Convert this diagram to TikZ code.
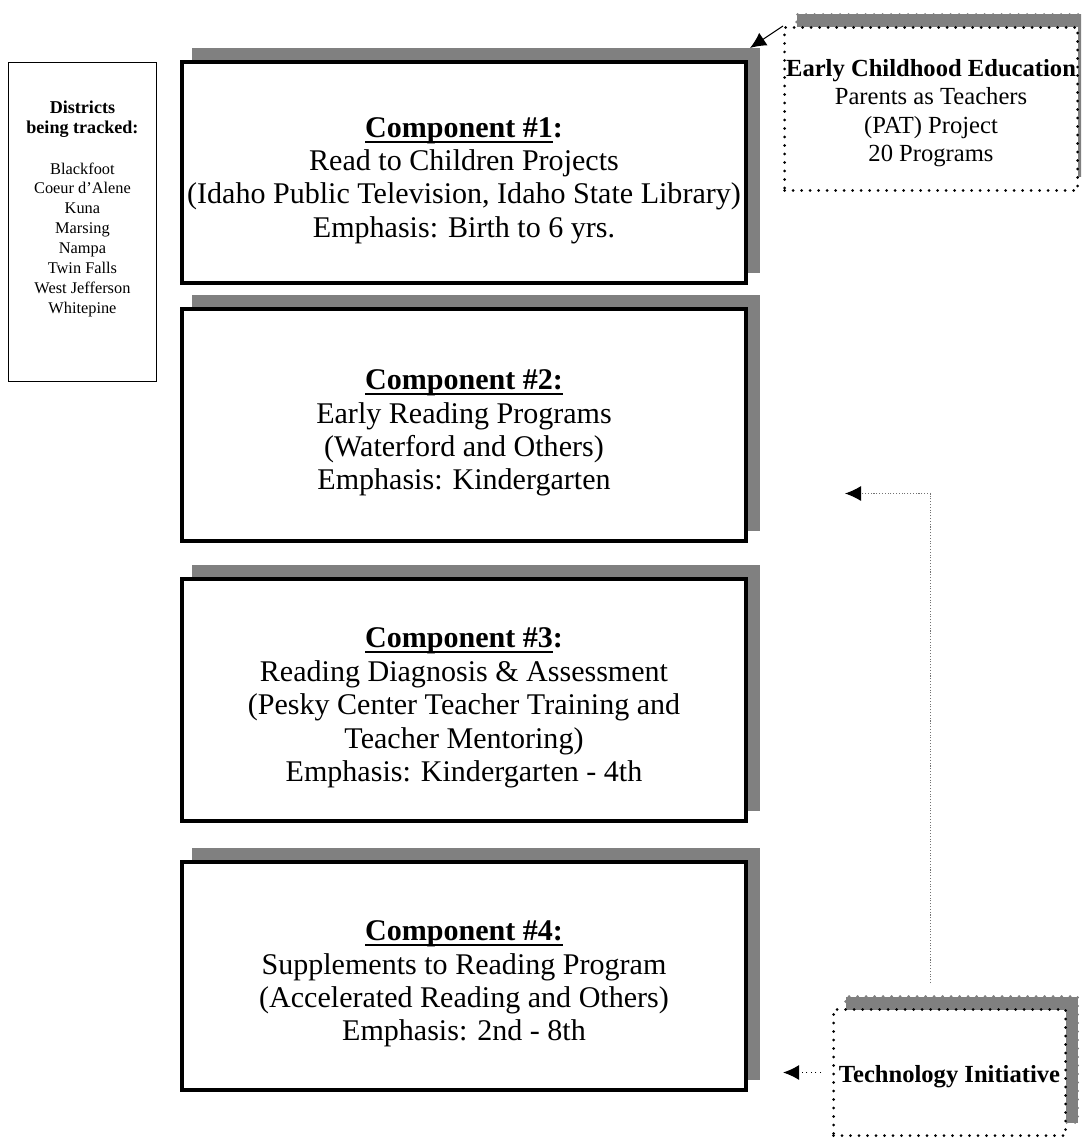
\documentclass[tikz,border=0pt]{standalone}
\usepackage{fontspec}
\setmainfont{Liberation Serif}
\usetikzlibrary{arrows.meta, positioning, calc, shadows}
\newcommand{\ulbox}[1]{\setbox0\hbox{#1}\rlap{\rule[-0.11cm]{\wd0}{0.04cm}}\box0}

\begin{document}
\begin{tikzpicture}[
        compbox/.style={draw, rectangle, line width=0.08cm, minimum width=11.28cm, inner xsep=2pt, align=center, fill=white, drop shadow={shadow xshift=0.24cm, shadow yshift=0.24cm, opacity=1, fill=black!50, draw=black!50}, font=\fontsize{17.1}{19}\selectfont},
        dotbox/.style={draw, rectangle, line width=0.06cm, dash pattern=on 0pt off 0.17cm, line cap=round, inner sep=0.5pt, align=center, fill=white, drop shadow={shadow xshift=0.24cm, shadow yshift=0.26cm, opacity=1, fill=black!50, draw=black!50}, font=\fontsize{14}{16.2}\selectfont},
        distbox/.style={draw, rectangle, line width=0.5pt, minimum width=2.96cm, minimum height=6.38cm, inner xsep=1pt, align=center, font=\fontsize{9.3}{11.3}\selectfont},
        arrow/.style={line width=0.6pt, -{Latex[length=0.32cm, width=0.3cm, color=black]}},
        dotarrow/.style={arrow, dotted, line width=0.8pt},
        linkarrow/.style={arrow, densely dotted, draw=black!55}
    ]
        \useasboundingbox (0,0) rectangle (21.62,-22.78);
        \clip (0,0) rectangle (21.62,-22.78);

        % Components
        \node[compbox, minimum height=4.42cm] (comp1) at (9.28,-3.45) {\textbf{\ulbox{Component \#1}:}\rule{0pt}{0.72cm}\\Read to Children Projects\\(Idaho Public Television, Idaho State Library)\\Emphasis: Birth to 6 yrs.};
        \node[compbox, minimum height=4.64cm, below=0.44cm of comp1] (comp2) {\textbf{\ulbox{Component \#2:}}\rule{0pt}{0.72cm}\\Early Reading Programs\\(Waterford and Others)\\Emphasis: Kindergarten};
        \node[compbox, minimum height=4.84cm, below=0.68cm of comp2] (comp3) {\textbf{\ulbox{Component \#3}:}\rule{0pt}{0.72cm}\\Reading Diagnosis \& Assessment\\(Pesky Center Teacher Training and\\Teacher Mentoring)\\Emphasis: Kindergarten - 4th};
        \node[compbox, minimum height=4.56cm, below=0.74cm of comp3] (comp4) {\textbf{\ulbox{Component \#4:}}\rule{0pt}{0.72cm}\\Supplements to Reading Program\\(Accelerated Reading and Others)\\Emphasis: 2nd - 8th};

        % Side boxes
        \node[distbox, anchor=north west, text depth=0.6cm] (districts) at (0.16,-1.24) {{\fontsize{10.3}{12}\selectfont\bfseries Districts}\\{\fontsize{10.3}{12}\selectfont\bfseries being tracked:}\\[0.42cm]Blackfoot\\Coeur d'Alene\\Kuna\\Marsing\\Nampa\\Twin Falls\\West Jefferson\\Whitepine};
        \node[dotbox, minimum width=5.86cm, minimum height=3.26cm] (ece) at (18.62,-2.18) {\textbf{Early Childhood Education}\rule{0pt}{0.5cm}\\Parents as Teachers\\(PAT) Project\\20 Programs};
        \node[dotbox, minimum width=4.64cm, minimum height=2.52cm] (tech) at (18.99,-21.45) {\textbf{Technology Initiative}\rule{0pt}{0.5cm}};

        % Arrows
        \draw[arrow] (ece.north west) -- ($(comp1.north east)+(0.04,0.24)$);
        \draw[dotarrow, shorten <=0.22cm] (tech.west) -- ($(comp4.east |- tech.west)+(0.7,0)$);
        \draw[linkarrow] ($(tech.north)+(-0.38,0.5)$) |- ($(comp2.east)+(1.94,-1.37)$);
    \end{tikzpicture}
\end{document}
